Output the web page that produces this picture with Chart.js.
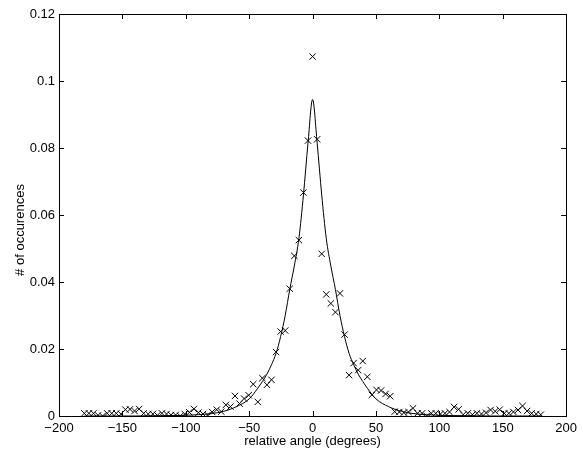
<!DOCTYPE html>
<html>
<head>
<meta charset="utf-8">
<script src="https://cdn.jsdelivr.net/npm/chart.js@4"></script>
<style>
  html, body { margin: 0; padding: 0; background: #fff; }
  #wrap { width: 582px; height: 459px; position: relative; }
</style>
</head>
<body>
<div id="wrap"><canvas id="angleChart"></canvas></div>
<script>
// histogram bin centres (degrees)
const angles = [
  -180, -176.4, -172.8, -169.2, -165.6, -162, -158.4, -154.8, -151.2, -147.6,
  -144, -140.4, -136.8, -133.2, -129.6, -126, -122.4, -118.8, -115.2, -111.6,
  -108, -104.4, -100.8, -97.2, -93.6, -90, -86.4, -82.8, -79.2, -75.6,
  -72, -68.4, -64.8, -61.2, -57.6, -54, -50.4, -46.8, -43.2, -39.6,
  -36, -32.4, -28.8, -25.2, -21.6, -18, -14.4, -10.8, -7.2, -3.6,
  0,
  3.6, 7.2, 10.8, 14.4, 18, 21.6, 25.2, 28.8, 32.4, 36,
  39.6, 43.2, 46.8, 50.4, 54, 57.6, 61.2, 64.8, 68.4, 72,
  75.6, 79.2, 82.8, 86.4, 90, 93.6, 97.2, 100.8, 104.4, 108,
  111.6, 115.2, 118.8, 122.4, 126, 129.6, 133.2, 136.8, 140.4, 144,
  147.6, 151.2, 154.8, 158.4, 162, 165.6, 169.2, 172.8, 176.4, 180
];

// measured fraction of occurences per bin
const occurences = [
  0.0008, 0.0008, 0.0008, 0.0002, 0.0000, 0.0008, 0.0008, 0.0008, 0.0006, 0.0019,
  0.0020, 0.0015, 0.0021, 0.0008, 0.0006, 0.0006, 0.0002, 0.0008, 0.0006, 0.0003,
  0.0003, 0.0000, 0.0006, 0.0011, 0.0021, 0.0010, 0.0006, 0.0003, 0.0012, 0.0019,
  0.0013, 0.0033, 0.0028, 0.0060, 0.0037, 0.0052, 0.0062, 0.0095, 0.0042, 0.0113,
  0.0093, 0.0108, 0.0191, 0.0252, 0.0255, 0.0380, 0.0478, 0.0525, 0.0667, 0.0822,
  0.1073,
  0.0826, 0.0484, 0.0363, 0.0336, 0.0310, 0.0366, 0.0243, 0.0122, 0.0158, 0.0137,
  0.0164, 0.0117, 0.0063, 0.0078, 0.0076, 0.0066, 0.0059, 0.0013, 0.0012, 0.0010,
  0.0012, 0.0023, 0.0008, 0.0008, 0.0000, 0.0008, 0.0008, 0.0006, 0.0008, 0.0012,
  0.0027, 0.0020, 0.0004, 0.0008, 0.0004, 0.0008, 0.0006, 0.0010, 0.0018, 0.0014,
  0.0019, 0.0008, 0.0008, 0.0012, 0.0018, 0.0030, 0.0015, 0.0008, 0.0006, 0.0004
];

// fitted curve, sampled
const fitAngles = [
  -180, -140, -120, -100, -90, -80, -70, -60, -50, -43.2, -39.6, -36, -32.4,
  -28.8, -25.2, -21.6, -18, -14.4, -10.8, -7.2, -3.6, 0,
  3.6, 7.2, 10.8, 14.4, 18, 21.6, 25.2, 28.8, 32.4, 36, 39.6, 43.2,
  50, 60, 70, 80, 90, 100, 120, 140, 180
];
const fitValues = [
  0.0000, 0.0000, 0.0001, 0.0002, 0.0004, 0.0007, 0.0014, 0.0028, 0.0051, 0.0083, 0.0103, 0.0125, 0.0153,
  0.0187, 0.0237, 0.0300, 0.0378, 0.0448, 0.0530, 0.0660, 0.0815, 0.0945,
  0.0815, 0.0660, 0.0530, 0.0448, 0.0378, 0.0300, 0.0237, 0.0187, 0.0153, 0.0125, 0.0103, 0.0083,
  0.0051, 0.0028, 0.0014, 0.0007, 0.0004, 0.0002, 0.0001, 0.0000, 0.0000
];

const xTicks = [-200, -150, -100, -50, 0, 50, 100, 150, 200];
const yTicks = [0, 0.02, 0.04, 0.06, 0.08, 0.1, 0.12];

const X_LABEL = "relative angle (degrees)";
const Y_LABEL = "# of occurences";

const FONT = { family: "'Liberation Sans', Arial, Helvetica, sans-serif", size: 13 };

// box round the axes with inward ticks on all four sides, plus the y label
const boxPlugin = {
  id: "box",
  afterDraw(chart) {
    const { ctx, chartArea: a, scales } = chart;
    const len = 5;
    ctx.save();
    ctx.strokeStyle = "#000";
    ctx.lineWidth = 1;
    ctx.strokeRect(Math.round(a.left) + 0.5, Math.round(a.top) + 0.5,
      Math.round(a.right - a.left), Math.round(a.bottom - a.top));
    ctx.beginPath();
    xTicks.forEach((v) => {
      const px = Math.round(scales.x.getPixelForValue(v)) + 0.5;
      ctx.moveTo(px, a.bottom); ctx.lineTo(px, a.bottom - len);
      ctx.moveTo(px, a.top); ctx.lineTo(px, a.top + len);
    });
    yTicks.forEach((v) => {
      const py = Math.round(scales.y.getPixelForValue(v)) + 0.5;
      ctx.moveTo(a.left, py); ctx.lineTo(a.left + len, py);
      ctx.moveTo(a.right, py); ctx.lineTo(a.right - len, py);
    });
    ctx.stroke();

    // y label sits a little below the axis centre in the original
    ctx.translate(20, (a.top + a.bottom) / 2 + 15);
    ctx.rotate(-Math.PI / 2);
    ctx.fillStyle = "#000";
    ctx.font = `${FONT.size}px ${FONT.family}`;
    ctx.textAlign = "center";
    ctx.textBaseline = "middle";
    ctx.fillText(Y_LABEL, 0, 0);
    ctx.restore();
  }
};

new Chart(document.getElementById("angleChart"), {
  type: "scatter",
  data: {
    datasets: [
      {
        label: "fit",
        type: "line",
        data: fitAngles.map((x, i) => ({ x, y: fitValues[i] })),
        borderColor: "#000",
        borderWidth: 1,
        pointRadius: 0,
        fill: false,
        cubicInterpolationMode: "monotone"
      },
      {
        label: "data",
        data: angles.map((x, i) => ({ x, y: occurences[i] })),
        pointStyle: "crossRot",
        pointRadius: 4.5,
        borderColor: "#000",
        borderWidth: 1,
        backgroundColor: "#000"
      }
    ]
  },
  options: {
    responsive: true,
    maintainAspectRatio: false,
    animation: false,
    layout: { padding: { left: 0, right: 13, top: 14, bottom: 0 } },
    plugins: { legend: { display: false }, tooltip: { enabled: false } },
    scales: {
      x: {
        type: "linear",
        min: -200,
        max: 200,
        afterBuildTicks: (s) => { s.ticks = xTicks.map((v) => ({ value: v })); },
        afterFit: (s) => { s.height = 43; },
        grid: { display: false, drawTicks: false },
        border: { display: false },
        ticks: {
          color: "#000",
          font: FONT,
          padding: 5,
          maxRotation: 0,
          callback: (v) => String(v).replace("-", "\u2212")
        },
        title: {
          display: true,
          text: X_LABEL,
          color: "#000",
          font: FONT,
          padding: { top: 0, bottom: 10 }
        }
      },
      y: {
        min: 0,
        max: 0.12,
        afterBuildTicks: (s) => { s.ticks = yTicks.map((v) => ({ value: v })); },
        afterFit: (s) => { s.width = 59; },
        grid: { display: false, drawTicks: false },
        border: { display: false },
        ticks: { color: "#000", font: FONT, padding: 4, callback: (v) => String(v) }
      }
    }
  },
  plugins: [boxPlugin]
});
</script>
</body>
</html>
